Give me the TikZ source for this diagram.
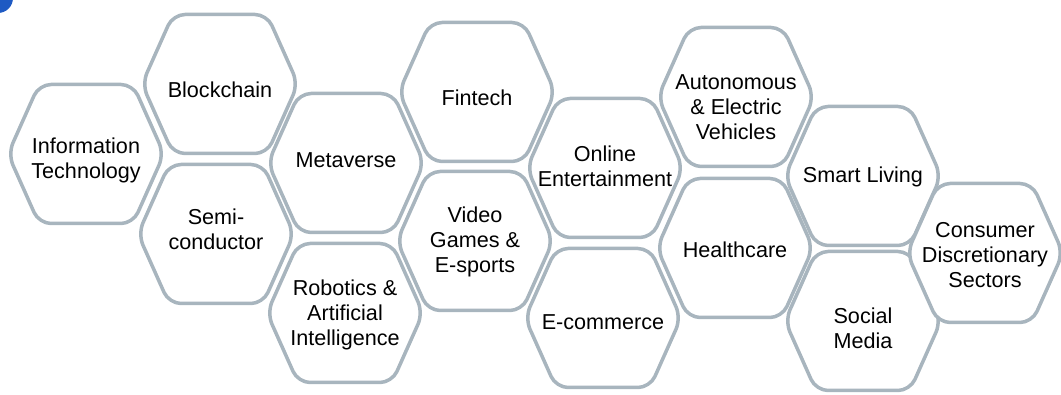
\documentclass[tikz,border=0pt]{standalone}
\usepackage{fontspec}
\setmainfont{Liberation Sans}
\definecolor{hexgray}{RGB}{168,181,190}
\definecolor{dotblue}{RGB}{30,90,195}
\tikzset{
  hexline/.style={draw=hexgray, line width=3.5pt, fill=white, rounded corners=12pt},
  hexlabel/.style={align=center, font=\fontsize{21.6}{25}\selectfont, text=black, inner sep=0pt}
}
\newcommand{\hexcell}[5]{%
  \draw[hexline] (#2,#3-69.5) -- (#2+47,#3-69.5) -- (#2+78,#3) -- (#2+47,#3+69.5)
     -- (#2-47,#3+69.5) -- (#2-78,#3) -- (#2-47,#3-69.5) -- cycle;
  \node[hexlabel] (#1) at (#2,#4) {#5};
}
\begin{document}
\begin{tikzpicture}[x=1pt,y=-1pt]
\useasboundingbox (0,0) rectangle (1061,395);
\fill[dotblue] (-2,-2) circle (15);
\hexcell{it}{86}{154}{160}{Information\\Technology}
\hexcell{blockchain}{220}{84}{90}{Blockchain}
\hexcell{semi}{216}{234}{229}{Semi-\\conductor}
\hexcell{metaverse}{346}{163}{160}{Metaverse}
\hexcell{robotics}{345}{313}{315}{Robotics \&\\Artificial\\Intelligence}
\hexcell{fintech}{477}{92}{98}{Fintech}
\hexcell{video}{475}{241}{242}{Video\\Games \&\\E-sports}
\hexcell{online}{605}{168}{166}{Online\\Entertainment}
\hexcell{ecommerce}{603}{318}{322}{E-commerce}
\hexcell{autonomous}{736}{97}{107}{Autonomous\\\& Electric\\Vehicles}
\hexcell{healthcare}{735}{248}{250}{Healthcare}
\hexcell{smart}{863}{176}{177}{Smart Living}
\hexcell{social}{863}{321}{328}{Social\\Media}
\hexcell{consumer}{985}{253}{255}{Consumer\\Discretionary\\Sectors}
\end{tikzpicture}
\end{document}
